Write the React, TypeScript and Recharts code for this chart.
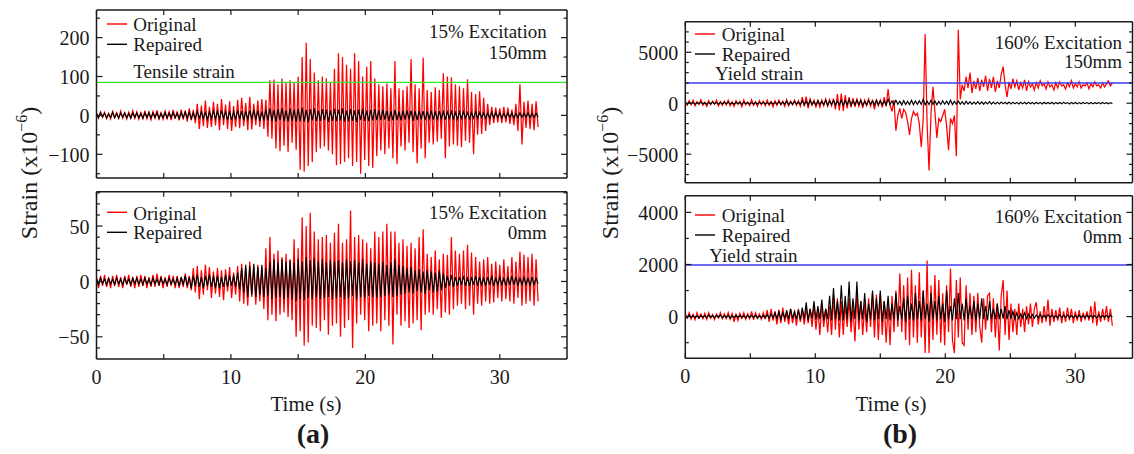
import React from 'react';
import { LineChart, Line, XAxis, YAxis, ReferenceLine } from 'recharts';

// sampling interval of the digitised records (s)
const DT = 0.15;

// ---- (a) 15% excitation, 150mm ----
const aTopOriginal = [
  6,-7,9,-5,8,-8,5,-9,10,-6,7,-8,11,-7,6,-9,8,-6,12,-8,
  9,-10,7,-8,12,-9,8,-11,10,-7,13,-9,7,-10,11,-8,9,-12,14,-9,
  10,-13,15,-11,12,-16,18,-12,14,-20,30,-35,25,-28,38,-32,22,-30,35,-26,
  30,-38,42,-25,28,-35,36,-40,24,-30,40,-33,45,-28,32,-38,48,-36,30,-25,
  38,-30,42,-35,40,-55,90,-60,92,-85,80,-92,95,-78,85,-95,90,-70,84,-88,
  100,-140,150,-145,187,-130,145,-120,110,-95,90,-85,100,-80,95,-90,85,-100,120,-128,
  160,-125,150,-120,130,-110,120,-130,160,-120,140,-150,100,-115,125,-130,140,-135,95,-105,
  80,-90,75,-100,82,-85,70,-110,140,-125,70,-80,65,-90,75,-70,145,-95,80,-123,
  70,-85,148,-110,65,-70,60,-75,72,-68,65,-60,108,-110,100,-80,98,-75,80,-78,
  75,-82,70,-65,93,-70,60,-100,55,-50,62,-48,45,-40,30,-25,22,-20,20,-18,
  18,-20,22,-18,20,-22,15,-25,30,-40,80,-75,35,-32,38,-35,30,-38,36,-30,
];
const aTopRepaired = [
  5,-6,7,-4,6,-7,4,-5,8,-6,5,-7,6,-5,7,-6,5,-8,6,-5,
  7,-6,5,-8,6,-5,8,-7,6,-5,7,-8,5,-6,8,-7,6,-5,7,-6,
  6,-8,7,-6,9,-7,8,-9,6,-8,10,-7,9,-8,7,-10,9,-8,11,-9,
  10,-9,12,-8,9,-11,10,-12,9,-10,13,-9,11,-12,10,-9,12,-10,14,-11,
  12,-14,10,-12,15,-13,18,-15,14,-17,16,-12,19,-15,13,-16,18,-14,15,-17,
  17,-15,20,-16,14,-18,16,-13,18,-15,12,-14,16,-12,15,-17,13,-14,17,-15,
  15,-13,18,-16,12,-15,16,-14,13,-17,15,-12,17,-14,12,-15,14,-13,16,-12,
  13,-12,15,-11,12,-14,11,-13,14,-12,10,-13,12,-11,13,-10,12,-14,11,-12,
  12,-10,11,-12,10,-9,12,-11,9,-10,11,-9,10,-11,9,-8,10,-9,8,-10,
  9,-8,10,-7,8,-9,7,-8,9,-7,8,-6,7,-8,6,-7,8,-6,7,-5,
  6,-7,5,-6,7,-5,6,-7,5,-6,7,-5,6,-5,7,-6,5,-6,6,-5,
];

// ---- (a) 15% excitation, 0mm ----
const aBottomOriginal = [
  4,-6,5,-4,6,-5,3,-6,5,-4,6,-5,4,-6,5,-3,6,-5,4,-6,
  5,-5,6,-4,5,-6,4,-5,6,-5,7,-4,5,-6,4,-5,6,-4,5,-6,
  5,-6,4,-5,7,-6,5,-8,12,-10,14,-16,10,-12,15,-8,13,-15,9,-11,
  12,-14,10,-17,11,-9,13,-15,8,-12,14,-18,16,-20,12,-22,18,-14,13,-21,
  15,-18,12,-25,30,-35,40,-30,25,-36,28,-30,22,-28,25,-32,20,-35,38,-50,
  30,-45,58,-58,50,-55,62,-40,45,-42,38,-45,40,-35,42,-48,35,-40,44,-38,
  52,-50,35,-42,38,-35,64,-60,40,-38,42,-30,38,-35,35,-45,30,-40,45,-38,
  40,-45,45,-35,52,-40,45,-57,45,-30,35,-40,38,-36,32,-42,35,-38,30,-35,
  40,-44,47,-30,25,-28,22,-30,28,-25,20,-33,25,-28,24,-30,40,-25,28,-22,
  25,-20,28,-25,33,-22,26,-30,22,-20,18,-22,20,-18,22,-20,16,-19,18,-15,
  15,-18,20,-16,14,-18,22,-20,18,-15,27,-22,24,-20,22,-18,25,-22,20,-18,
];
const aBottomRepaired = [
  2,-3,3,-2,2,-3,3,-2,2,-3,3,-2,2,-3,3,-2,2,-3,3,-2,
  3,-2,2,-3,3,-2,2,-3,3,-2,2,-3,3,-2,2,-3,3,-2,2,-3,
  3,-4,4,-3,5,-4,4,-6,5,-4,6,-5,4,-6,5,-4,6,-5,5,-6,
  5,-6,4,-5,6,-5,5,-4,6,-5,8,-7,12,-10,15,-14,14,-12,16,-14,
  13,-12,15,-14,12,-13,18,-16,20,-15,17,-14,20,-16,18,-15,19,-16,17,-18,
  20,-16,18,-17,22,-15,19,-16,21,-14,18,-16,20,-15,17,-14,19,-16,18,-15,
  19,-14,17,-16,20,-15,18,-13,19,-16,17,-14,20,-15,16,-13,18,-14,17,-15,
  16,-14,18,-13,15,-12,17,-14,20,-13,15,-12,14,-11,12,-10,13,-11,10,-9,
  11,-10,9,-11,10,-8,9,-10,8,-9,10,-8,7,-6,5,-4,6,-5,4,-4,
  4,-3,5,-4,3,-4,4,-3,5,-4,4,-3,3,-4,4,-3,5,-4,3,-3,
  4,-3,3,-4,4,-3,5,-3,4,-4,3,-3,4,-3,3,-4,4,-3,3,-2,
];

// ---- (b) 160% excitation, 150mm ----
const bTopOriginal = [
  100,-200,250,-150,300,-250,150,-100,350,-200,100,-300,250,-150,200,-100,300,-250,150,-200,
  200,-150,300,-250,150,-300,250,-100,200,-350,300,-150,100,-250,350,-200,150,-300,250,-150,
  200,-250,300,-200,150,-350,250,-200,300,-150,200,-300,350,-250,200,-150,300,-200,250,-300,
  600,-300,650,-500,400,-200,300,-350,250,-400,300,-250,400,-300,350,-250,450,-600,900,-700,
  950,-750,800,-500,600,-400,500,-350,400,-300,350,-450,300,-250,400,-300,350,-600,300,-250,
  300,-400,600,-300,1400,-200,-800,300,-2700,-1200,-500,-1500,-600,-900,-1800,-3100,-1500,-800,-1200,-1000,
  -2000,-4300,-1500,6800,-2000,-6600,-1000,1600,-800,-3400,-1500,-1800,-1200,-600,-2200,-4600,-1500,-2000,-1200,-5200,
  7200,400,1800,1200,2600,1500,3000,1000,2200,1400,2500,1200,2300,1600,2700,1200,2400,1500,2600,1100,
  2200,1500,2800,3600,1800,600,2100,1400,2400,1600,2200,1300,2000,1500,2300,1200,2100,1600,1900,1300,
  2000,1500,2200,1700,1900,1400,2100,1600,1800,1300,2000,1500,2100,1700,1800,1400,2000,1600,2200,1500,
  1900,1600,2100,1500,1800,1700,2000,1400,1900,1600,2100,1700,1800,1500,2000,1600,1900,2200,1700,2000,
];
const bTopRepaired = [
  50,-100,100,-50,80,-120,60,-80,100,-60,50,-100,80,-70,120,-50,60,-90,100,-60,
  80,-60,100,-80,60,-100,90,-50,70,-90,100,-60,80,-70,60,-100,90,-80,70,-60,
  100,-80,60,-90,120,-70,80,-100,150,-120,100,-80,200,-150,120,-100,180,-90,100,-120,
  250,-150,200,-180,300,-120,150,-200,250,-100,180,-150,300,-200,220,-120,280,-180,200,-150,
  300,-200,250,-150,350,-180,220,-150,300,-120,250,-200,180,-150,280,-100,220,-160,300,-120,
  250,-150,200,-180,400,-120,220,-150,280,-100,200,-160,250,-130,180,-120,300,-150,220,-100,
  250,-120,400,-150,200,-130,280,-100,220,-150,180,-120,250,-100,200,-130,300,-120,180,-100,
  200,-100,150,-120,180,-80,150,-100,120,-90,150,-80,130,-100,120,-70,150,-90,110,-80,
  100,-80,120,-60,90,-70,110,-80,100,-60,80,-70,100,-60,90,-80,100,-50,80,-70,
  90,-60,80,-70,100,-50,70,-60,90,-70,80,-50,70,-60,90,-40,60,-70,80,-50,
  70,-50,60,-60,80,-40,60,-50,70,-60,50,-40,60,-50,70,-40,50,-60,60,-40,
];

// ---- (b) 160% excitation, 0mm ----
const bBottomOriginal = [
  100,-50,150,-100,80,-120,150,-50,100,-80,120,-100,150,-60,80,-120,100,-50,150,-80,
  100,-80,150,-100,120,-200,80,-150,120,-60,150,-100,100,-80,200,-120,150,-60,100,-100,
  150,-100,250,-200,300,-150,200,-300,250,-250,350,-200,150,-300,300,-250,200,-350,300,-200,
  250,-300,350,-250,300,-400,450,-500,300,-700,500,-400,300,-600,400,-700,800,-500,700,-800,
  600,-700,500,-400,700,-600,400,-950,950,-500,600,-700,500,-600,700,-400,900,-800,850,-900,
  900,-700,600,-1000,500,-1100,800,-600,1000,-400,1650,-600,1200,-900,1500,-1100,1800,-800,1200,-1000,
  1700,-800,1000,-1400,2150,-1400,1200,-900,1600,-700,1400,-1000,900,-1100,1200,-600,1850,-900,-1400,1400,
  -800,1500,-1000,-1100,1200,-500,900,-700,800,-600,900,-400,-1000,700,-500,800,900,-600,700,-800,
  500,-1300,800,1400,-700,1000,-900,500,-600,300,-700,500,-400,300,-600,400,-300,500,-400,300,
  550,-300,200,-250,400,-200,650,-350,300,-200,250,-150,350,-250,200,-200,350,-150,300,-250,
  200,-150,250,-200,150,-100,200,-150,400,-250,575,-350,200,-200,300,-150,400,-200,300,-350,
];
const bBottomRepaired = [
  30,-50,60,-30,50,-40,30,-60,50,-30,40,-50,60,-30,40,-40,50,-30,60,-50,
  40,-30,50,-60,30,-40,60,-30,50,-40,30,-50,60,-40,40,-30,50,-60,30,-40,
  50,-40,80,-60,100,-50,150,-80,200,-100,150,-60,250,-100,300,-80,200,-100,250,-120,
  350,-100,550,-150,300,-80,600,-120,400,-100,650,-150,300,-100,800,-150,1100,-100,600,-150,
  1200,-150,800,-100,1350,-200,700,-100,1350,-150,600,-100,900,-200,500,-100,1000,-150,700,-100,
  1000,-200,600,-100,800,-150,500,-100,900,-150,400,-100,700,-200,800,-100,500,-150,900,-100,
  600,-150,1000,-100,500,-200,900,-100,600,-150,800,-100,500,-200,1000,-100,400,-150,700,-100,
  900,-100,500,-150,700,-100,400,-100,600,-150,500,-100,700,-100,400,-150,600,-100,300,-100,
  500,-100,300,-80,400,-100,250,-80,200,-100,150,-80,100,-60,150,-80,100,-50,80,-60,
  60,-50,80,-40,50,-60,80,-30,60,-50,40,-60,70,-40,50,-30,60,-50,40,-40,
  50,-40,60,-30,40,-50,60,-40,50,-30,40,-50,60,-30,40,-40,50,-30,60,-20,
];

// reference levels
const tensileStrain = 85;
const yieldStrain = 1980;

// ticks
const xLabelTicks = [0, 10, 20, 30];
const xTicksA = [0, 5, 10, 15, 20, 25, 30];
const xTicksB = [0, 5, 10, 15, 20, 25, 30];
const aTopYLabels = [-100, 0, 100, 200];
const aTopYTicks = [-150, -100, -50, 0, 50, 100, 150, 200, 250];
const aBottomYLabels = [-50, 0, 50];
const aBottomYTicks = [-60, -50, -40, -30, -20, -10, 0, 10, 20, 30, 40, 50, 60, 70, 80];
const bTopYLabels = [-5000, 0, 5000];
const bTopYTicks = [-7000, -6000, -5000, -4000, -3000, -2000, -1000, 0, 1000, 2000, 3000, 4000, 5000, 6000, 7000];
const bBottomYLabels = [0, 2000, 4000];
const bBottomYTicks = [-1000, 0, 1000, 2000, 3000, 4000];

const SERIF = '"Liberation Serif", "Times New Roman", Times, serif';
const INK = '#1a1a1a';

const fmt = (v: number) => (v < 0 ? '\u2212' + Math.abs(v) : String(v));

function toRows(orig: number[], rep: number[]) {
  return orig.map((v, i) => ({ t: Math.round(i * DT * 100) / 100, o: v, r: rep[i] }));
}

// plot-area geometry of each panel: ml/mr/mt/mb are the distances from the chart edges to the plot frame
type Geo = { left: number; top: number; width: number; height: number; ml: number; mr: number; mt: number; mb: number };

type PanelProps = {
  geo: Geo;
  rows: { t: number; o: number; r: number }[];
  xDomain: [number, number];
  xTicks: number[];
  showXLabels: boolean;
  yDomain: [number, number];
  yTicks: number[];
  yLabels: number[];
  refValue?: number;
  refColor?: string;
};

const AX = 1; // thickness reserved for each axis band

function Panel({ geo, rows, xDomain, xTicks, showXLabels, yDomain, yTicks, yLabels, refValue, refColor }: PanelProps) {
  const plotLeft = geo.ml;
  const plotRight = geo.width - geo.mr;
  const plotTop = geo.mt;
  const plotBottom = geo.height - geo.mb;
  const axisLine = { stroke: INK, strokeWidth: 1.5 };

  const leftTick = (p: any) => {
    const v = p.payload.value;
    const y = p.payload.coordinate ?? p.y;
    const major = yLabels.includes(v);
    return (
      <g>
        <line x1={plotLeft} x2={plotLeft + (major ? 6 : 3.5)} y1={y} y2={y} stroke={INK} strokeWidth={1.2} />
        {major ? (
          <text x={plotLeft - 7} y={y + 7.5} textAnchor="end" fontFamily={SERIF} fontSize={20} fill={INK}>
            {fmt(v)}
          </text>
        ) : null}
      </g>
    );
  };
  const rightTick = (p: any) => {
    const v = p.payload.value;
    const y = p.payload.coordinate ?? p.y;
    const major = yLabels.includes(v);
    return (
      <g>
        <line x1={plotRight} x2={plotRight - (major ? 6 : 3.5)} y1={y} y2={y} stroke={INK} strokeWidth={1.2} />
      </g>
    );
  };
  const bottomTick = (p: any) => {
    const v = p.payload.value;
    const x = p.payload.coordinate ?? p.x;
    const labelled = showXLabels && xLabelTicks.includes(v);
    return (
      <g>
        <line x1={x} x2={x} y1={plotBottom} y2={plotBottom - 5} stroke={INK} strokeWidth={1.2} />
        {labelled ? (
          <text x={x} y={plotBottom + 24.5} textAnchor="middle" fontFamily={SERIF} fontSize={20} fill={INK}>
            {fmt(v)}
          </text>
        ) : null}
      </g>
    );
  };
  const topTick = (p: any) => {
    const x = p.payload.coordinate ?? p.x;
    return (
      <g>
        <line x1={x} x2={x} y1={plotTop} y2={plotTop + 5} stroke={INK} strokeWidth={1.2} />
      </g>
    );
  };

  return (
    <div style={{ position: 'absolute', left: geo.left, top: geo.top, width: geo.width, height: geo.height }}>
      <LineChart
        width={geo.width}
        height={geo.height}
        data={rows}
        margin={{ top: geo.mt - AX, right: geo.mr - AX, bottom: geo.mb - AX, left: geo.ml - AX }}
      >
        <XAxis
          xAxisId="b"
          dataKey="t"
          type="number"
          domain={xDomain}
          allowDataOverflow
          ticks={xTicks}
          interval={0}
          height={AX}
          tickLine={false}
          tick={bottomTick}
          axisLine={axisLine}
        />
        <XAxis
          xAxisId="t"
          orientation="top"
          dataKey="t"
          type="number"
          domain={xDomain}
          allowDataOverflow
          ticks={xTicks}
          interval={0}
          height={AX}
          tickLine={false}
          tick={topTick}
          axisLine={axisLine}
        />
        <YAxis
          yAxisId="l"
          type="number"
          domain={yDomain}
          allowDataOverflow
          ticks={yTicks}
          interval={0}
          width={AX}
          tickLine={false}
          tick={leftTick}
          axisLine={axisLine}
        />
        <YAxis
          yAxisId="r"
          orientation="right"
          type="number"
          domain={yDomain}
          allowDataOverflow
          ticks={yTicks}
          interval={0}
          width={AX}
          tickLine={false}
          tick={rightTick}
          axisLine={axisLine}
        />
        <Line
          xAxisId="b"
          yAxisId="l"
          type="linear"
          dataKey="o"
          stroke="#ff0000"
          strokeWidth={1.25}
          dot={false}
          activeDot={false}
          isAnimationActive={false}
        />
        <Line
          xAxisId="b"
          yAxisId="l"
          type="linear"
          dataKey="r"
          stroke="#000000"
          strokeWidth={1.15}
          dot={false}
          activeDot={false}
          isAnimationActive={false}
        />
        {refValue !== undefined ? (
          <ReferenceLine xAxisId="b" yAxisId="l" y={refValue} stroke={refColor} strokeWidth={1.4} />
        ) : null}
      </LineChart>
    </div>
  );
}

const geoATop: Geo = { left: 0, top: 0, width: 575, height: 185, ml: 96.5, mr: 8, mt: 10, mb: 7 };
const geoABottom: Geo = { left: 0, top: 180, width: 575, height: 210, ml: 96.5, mr: 8, mt: 11.7, mb: 31 };
const geoBTop: Geo = { left: 620, top: 0, width: 514, height: 187, ml: 65.3, mr: 1.5, mt: 21.7, mb: 4.3 };
const geoBBottom: Geo = { left: 620, top: 187, width: 514, height: 200, ml: 65.3, mr: 1.5, mt: 8.7, mb: 28.7 };

function Legend({ x, y1, y2, textX }: { x: number; y1: number; y2: number; textX: number }) {
  return (
    <g fontFamily={SERIF} fontSize={19} fill={INK}>
      <line x1={x} x2={x + 20} y1={y1} y2={y1} stroke="#ff0000" strokeWidth={1.4} />
      <text x={textX} y={y1 + 7.3}>Original</text>
      <line x1={x} x2={x + 20} y1={y2} y2={y2} stroke="#000" strokeWidth={1.4} />
      <text x={textX} y={y2 + 6.5}>Repaired</text>
    </g>
  );
}

function YTitle({ x, y }: { x: number; y: number }) {
  return (
    <text transform={`translate(${x},${y}) rotate(-90)`} textAnchor="middle" fontFamily={SERIF} fontSize={24} fill={INK}>
      Strain (x10
      <tspan dy={-10} fontSize={16}>
        {'\u22126'}
      </tspan>
      <tspan dy={10}>)</tspan>
    </text>
  );
}

export default function App() {
  const rowsATop = toRows(aTopOriginal, aTopRepaired);
  const rowsABottom = toRows(aBottomOriginal, aBottomRepaired);
  const rowsBTop = toRows(bTopOriginal, bTopRepaired);
  const rowsBBottom = toRows(bBottomOriginal, bBottomRepaired);

  return (
    <div style={{ position: 'absolute', left: 0, top: 0, width: 1134, height: 454, background: '#fff', overflow: 'hidden' }}>
      <Panel
        geo={geoATop}
        rows={rowsATop}
        xDomain={[0, 35]}
        xTicks={xTicksA}
        showXLabels={false}
        yDomain={[-161, 271]}
        yTicks={aTopYTicks}
        yLabels={aTopYLabels}
        refValue={tensileStrain}
        refColor="#33e633"
      />
      <Panel
        geo={geoABottom}
        rows={rowsABottom}
        xDomain={[0, 35]}
        xTicks={xTicksA}
        showXLabels={true}
        yDomain={[-70, 81]}
        yTicks={aBottomYTicks}
        yLabels={aBottomYLabels}
      />
      <Panel
        geo={geoBTop}
        rows={rowsBTop}
        xDomain={[0, 34.4]}
        xTicks={xTicksB}
        showXLabels={false}
        yDomain={[-7800, 8000]}
        yTicks={bTopYTicks}
        yLabels={bTopYLabels}
        refValue={yieldStrain}
        refColor="#3b3bf0"
      />
      <Panel
        geo={geoBBottom}
        rows={rowsBBottom}
        xDomain={[0, 34.4]}
        xTicks={xTicksB}
        showXLabels={true}
        yDomain={[-1600, 4640]}
        yTicks={bBottomYTicks}
        yLabels={bBottomYLabels}
        refValue={yieldStrain}
        refColor="#3b3bf0"
      />
      <svg
        width={1134}
        height={454}
        style={{ position: 'absolute', left: 0, top: 0, pointerEvents: 'none' }}
      >
        <Legend x={107} y1={24} y2={44.3} textX={133.3} />
        <text x={133.3} y={77.5} fontFamily={SERIF} fontSize={19} fill={INK}>Tensile strain</text>
        <text x={546.7} y={37.5} textAnchor="end" fontFamily={SERIF} fontSize={19} fill={INK}>15% Excitation</text>
        <text x={546.7} y={58.5} textAnchor="end" fontFamily={SERIF} fontSize={19} fill={INK}>150mm</text>

        <Legend x={107} y1={212.3} y2={232.3} textX={133.3} />
        <text x={546.7} y={219.3} textAnchor="end" fontFamily={SERIF} fontSize={19} fill={INK}>15% Excitation</text>
        <text x={546.7} y={239.3} textAnchor="end" fontFamily={SERIF} fontSize={19} fill={INK}>0mm</text>

        <Legend x={695} y1={34} y2={54} textX={721.7} />
        <text x={715} y={80} fontFamily={SERIF} fontSize={19} fill={INK}>Yield strain</text>
        <text x={1122} y={48.6} textAnchor="end" fontFamily={SERIF} fontSize={19} fill={INK}>160% Excitation</text>
        <text x={1122} y={68.3} textAnchor="end" fontFamily={SERIF} fontSize={19} fill={INK}>150mm</text>

        <Legend x={695} y1={215} y2={235} textX={721.7} />
        <text x={709.3} y={261.7} fontFamily={SERIF} fontSize={19} fill={INK}>Yield strain</text>
        <text x={1122} y={223.3} textAnchor="end" fontFamily={SERIF} fontSize={19} fill={INK}>160% Excitation</text>
        <text x={1122} y={243.3} textAnchor="end" fontFamily={SERIF} fontSize={19} fill={INK}>0mm</text>

        <YTitle x={37} y={173} />
        <YTitle x={618} y={173} />

        <text x={306} y={411} textAnchor="middle" fontFamily={SERIF} fontSize={21} fill={INK}>Time (s)</text>
        <text x={891} y={411} textAnchor="middle" fontFamily={SERIF} fontSize={21} fill={INK}>Time (s)</text>
        <text x={313} y={443} textAnchor="middle" fontFamily={SERIF} fontSize={28} fontWeight="bold" fill={INK}>(a)</text>
        <text x={900} y={443} textAnchor="middle" fontFamily={SERIF} fontSize={28} fontWeight="bold" fill={INK}>(b)</text>
      </svg>
    </div>
  );
}
